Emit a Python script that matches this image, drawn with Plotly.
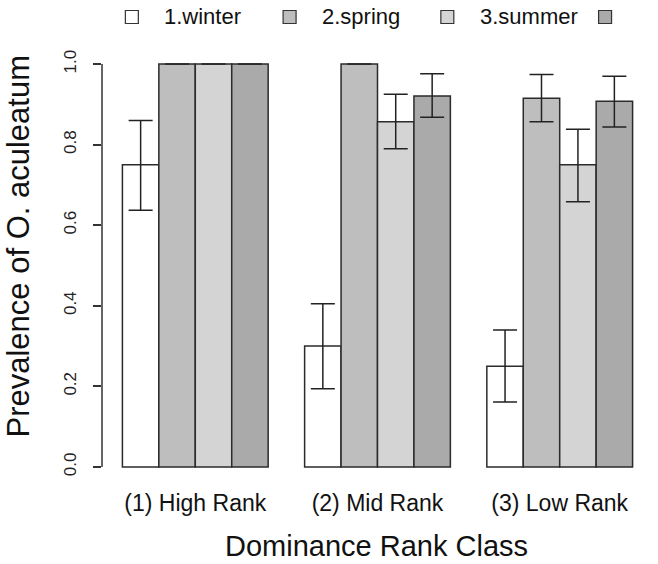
import math
import plotly.graph_objects as go

# ---------------- data ----------------
groups = ["(1) High Rank", "(2) Mid Rank", "(3) Low Rank"]
season_labels = ["1.winter", "2.spring", "3.summer", ""]
season_colors = ["#ffffff", "#bebebe", "#d4d4d4", "#aaaaaa"]
NA = float("nan")

winter = [0.75, 0.30, 0.25]
winter_hi = [0.860, 0.405, 0.340]
winter_lo = [0.637, 0.194, 0.161]

spring = [1.0, 1.0, 0.915]
spring_hi = [NA, NA, 0.974]
spring_lo = [NA, NA, 0.857]

summer = [1.0, 0.857, 0.75]
summer_hi = [NA, 0.925, 0.838]
summer_lo = [NA, 0.790, 0.658]

fall = [1.0, 0.921, 0.908]
fall_hi = [NA, 0.976, 0.970]
fall_lo = [NA, 0.868, 0.844]

y_ticks = [0.0, 0.2, 0.4, 0.6, 0.8, 1.0]

series = [
    (winter, winter_hi, winter_lo),
    (spring, spring_hi, spring_lo),
    (summer, summer_hi, summer_lo),
    (fall, fall_hi, fall_lo),
]

# ---------------- layout geometry ----------------
FW, FH = 658, 564
ML, MR, MT, MB = 101.6, 4.5, 48, 81
PW = FW - ML - MR
PH = FH - MT - MB


def pxx(px):
    return (px - ML) / PW


def pxy(py):
    return (MT + PH - py) / PH


n_s = len(series)
fig = go.Figure()
for s, (vals, hi, lo) in enumerate(series):
    xs = [1 + g * (n_s + 1) + s + 0.5 for g in range(len(groups))]
    plus = [h - v if not math.isnan(h) else NA for v, h in zip(vals, hi)]
    minus = [v - l if not math.isnan(l) else NA for v, l in zip(vals, lo)]
    fig.add_trace(go.Bar(
        x=xs, y=vals, width=1.0,
        marker=dict(color=season_colors[s], line=dict(color="#2b2b2b", width=1.5)),
        error_y=dict(type="data", symmetric=False, array=plus, arrayminus=minus,
                     color="#222222", thickness=1.5, width=12),
        showlegend=False, name=season_labels[s],
    ))

group_centers = [1 + g * (n_s + 1) + n_s / 2 for g in range(len(groups))]

font_family = "Liberation Sans, Arial, sans-serif"

shapes = [dict(type="line", xref="paper", yref="y", x0=0, x1=0,
               y0=y_ticks[0], y1=y_ticks[-1], line=dict(color="#333333", width=1.5))]
annotations = []

# manual legend (fourth label falls outside the picture)
box = 13
for i, lab in enumerate(season_labels):
    left = 125 + i * 158
    shapes.append(dict(type="rect", xref="paper", yref="paper",
                       x0=pxx(left), x1=pxx(left + box),
                       y0=pxy(17 + box / 2), y1=pxy(17 - box / 2),
                       fillcolor=season_colors[i], line=dict(color="#333333", width=1.2)))
    if lab:
        annotations.append(dict(xref="paper", yref="paper", x=pxx(left + 37), y=pxy(17),
                                xanchor="left", yanchor="middle", text=lab, showarrow=False,
                                font=dict(size=22, color="#111111", family=font_family)))

annotations.append(dict(xref="paper", yref="paper", x=pxx(377), y=pxy(546),
                        xanchor="center", yanchor="middle", text="Dominance Rank Class",
                        showarrow=False, font=dict(size=29, color="#111111", family=font_family)))
annotations.append(dict(xref="paper", yref="paper", x=pxx(17), y=pxy(246),
                        xanchor="center", yanchor="middle", text="Prevalence of O. aculeatum",
                        textangle=-90, showarrow=False,
                        font=dict(size=31, color="#111111", family=font_family)))

fig.update_layout(
    width=FW, height=FH,
    margin=dict(l=ML, r=MR, t=MT, b=MB, pad=0),
    paper_bgcolor="white", plot_bgcolor="white",
    font=dict(family=font_family, color="#111111"),
    barmode="overlay",
    xaxis=dict(range=[0.44, 15.56], tickmode="array", tickvals=group_centers, ticktext=groups,
               showgrid=False, zeroline=False, showline=False, ticks="",
               tickfont=dict(size=23, color="#111111"), ticklabelstandoff=4),
    yaxis=dict(range=[-0.04, 1.04], tickmode="array", tickvals=y_ticks,
               ticktext=["%.1f" % v for v in y_ticks], tickangle=-90,
               showgrid=False, zeroline=False, showline=False,
               ticks="outside", ticklen=8, tickwidth=1.5, tickcolor="#333333",
               tickfont=dict(size=17, color="#222222"), ticklabelstandoff=10),
    shapes=shapes, annotations=annotations,
)

fig.write_html("out.html", config={"displayModeBar": False},
               post_script="document.body.style.margin='0';document.body.style.overflow='hidden';")
